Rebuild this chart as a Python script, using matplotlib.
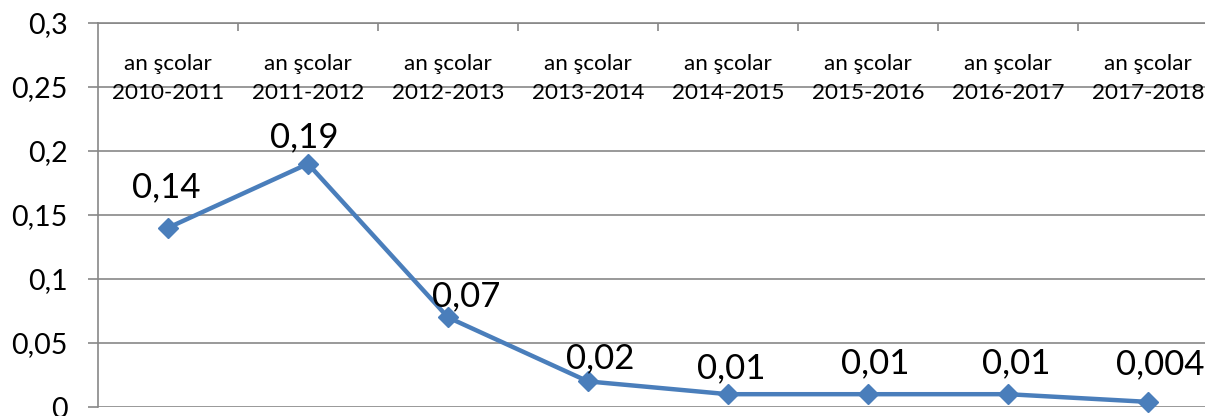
import numpy as np
import matplotlib.pyplot as plt

# data
years = ["2010-2011", "2011-2012", "2012-2013", "2013-2014",
         "2014-2015", "2015-2016", "2016-2017", "2017-2018"]
values = [0.14, 0.19, 0.07, 0.02, 0.01, 0.01, 0.01, 0.004]
value_labels = ["0,14", "0,19", "0,07", "0,02", "0,01", "0,01", "0,01", "0,004"]
yticks = [0, 0.05, 0.1, 0.15, 0.2, 0.25, 0.3]
ytick_labels = ["0", "0,05", "0,1", "0,15", "0,2", "0,25", "0,3"]

# label offsets in points (Excel placed them a bit irregularly)
label_offsets = [(-1, 29), (-3, 19), (13, 15), (9, 17), (2, 19), (5, 22), (6, 22), (9, 27)]

plt.rcParams['font.family'] = ['Lato', 'DejaVu Sans']

grid_col = '#878787'
line_col = '#4a7ebb'

fig = plt.figure(figsize=(12.05, 4.16), dpi=100)
ax = fig.add_axes([98 / 1205, 9 / 416, 1120 / 1205, 384 / 416])

x = np.arange(len(years))
ax.plot(x, values, color=line_col, linewidth=3.2, marker='D', markersize=10.5,
        markerfacecolor=line_col, markeredgecolor=line_col, clip_on=False, zorder=3)

for xi, yi, lab, off in zip(x, values, value_labels, label_offsets):
    ax.annotate(lab, (xi, yi), xytext=off, textcoords='offset points',
                ha='center', va='center', fontsize=25, color='black')

# category labels sit inside the plot, under the top axis
for xi, yr in zip(x, years):
    ax.text(xi, 0.2565, "an şcolar\n" + yr, ha='center', va='center',
            fontsize=16.2, linespacing=1.55, color='black')

ax.set_xlim(-0.5, len(years) - 0.5)
ax.set_ylim(0, 0.3)
ax.set_yticks(yticks)
ax.set_yticklabels(ytick_labels, fontsize=20.5)
ax.grid(axis='y', color=grid_col, linewidth=1.2)
ax.set_axisbelow(True)

ax.set_xticks(np.arange(0.5, len(years) - 0.5))
ax.set_xticklabels([])
ax.tick_params(axis='x', which='both', top=True, bottom=False, direction='in',
               length=6, width=1.2, color=grid_col)
ax.tick_params(axis='y', direction='out', length=7, width=1.2, color=grid_col, pad=15)

for side in ['right', 'bottom']:
    ax.spines[side].set_visible(False)
for side in ['left', 'top']:
    ax.spines[side].set_color(grid_col)
    ax.spines[side].set_linewidth(1.2)

fig.savefig('out.png', dpi=100)
